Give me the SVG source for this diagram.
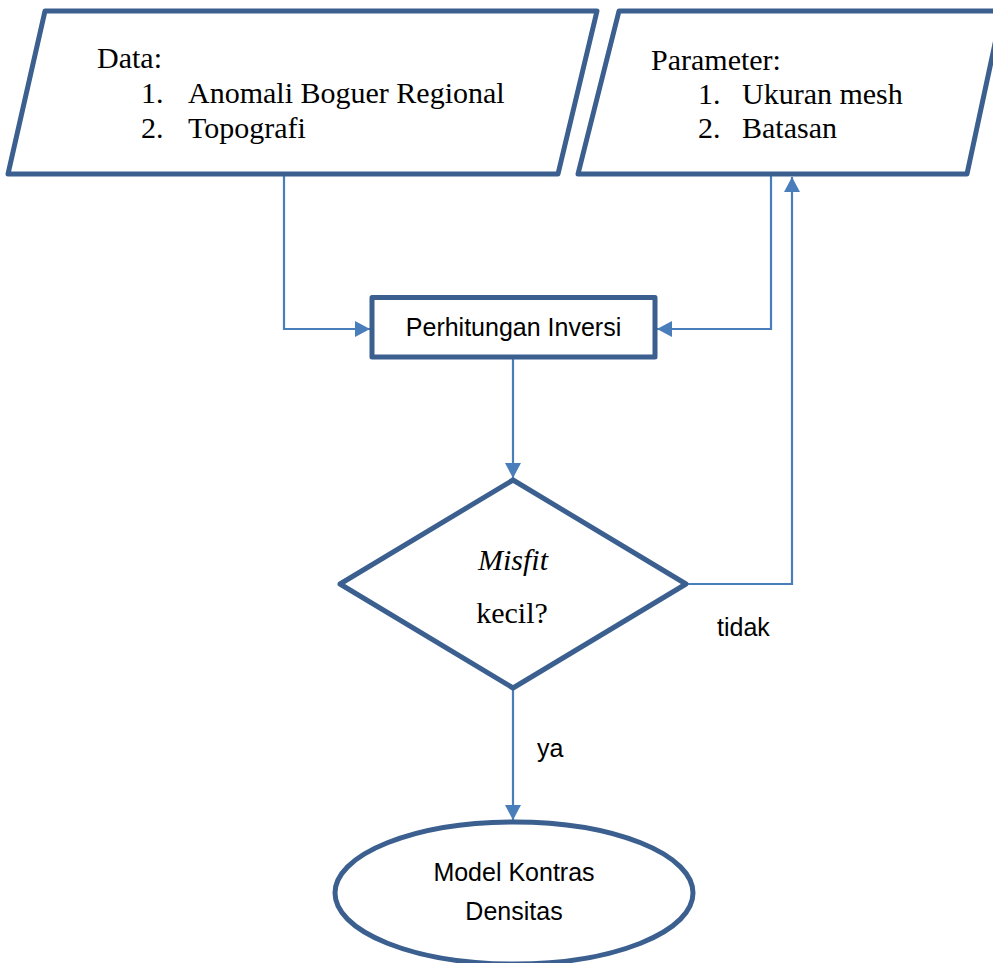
<svg xmlns="http://www.w3.org/2000/svg" width="993" height="963" viewBox="0 0 993 963">
  <style>
    .shape { fill: #ffffff; stroke: #3B5F8F; stroke-width: 5; stroke-linejoin: round; }
    .conn { fill: none; stroke: #4A7EBB; stroke-width: 2.2; }
    .serif { font-family: "Liberation Serif", "Times New Roman", serif; font-size: 30px; fill: #000; }
    .sans { font-family: "Liberation Sans", Arial, sans-serif; font-size: 25px; fill: #000; }
  </style>
  <defs>
    <marker id="arrow" markerUnits="userSpaceOnUse" markerWidth="15" markerHeight="16" refX="15" refY="8" orient="auto">
      <path d="M0,0 L15,8 L0,16 Z" fill="#4A7EBB"/>
    </marker>
  </defs>
  <rect width="993" height="963" fill="#ffffff"/>

  <g id="connectors">
    <path class="conn" d="M284,175 V329 H370" marker-end="url(#arrow)"/>
    <path class="conn" d="M771,175 V329 H657" marker-end="url(#arrow)"/>
    <path class="conn" d="M513,359 V478" marker-end="url(#arrow)"/>
    <path class="conn" d="M686,584 H792 V177" marker-end="url(#arrow)"/>
    <path class="conn" d="M513,690 V820" marker-end="url(#arrow)"/>
  </g>

  <g id="data">
    <polygon class="shape" points="45,11 597,11 558,174 8,174"/>
    <text class="serif" x="97" y="68">Data:</text>
    <text class="serif" x="141" y="103">1.</text>
    <text class="serif" x="188" y="103">Anomali Boguer Regional</text>
    <text class="serif" x="141" y="138">2.</text>
    <text class="serif" x="188" y="138">Topografi</text>
  </g>

  <g id="parameter">
    <polygon class="shape" points="619,11 1002,11 967,174 578,174"/>
    <text class="serif" x="651" y="70">Parameter:</text>
    <text class="serif" x="698" y="104">1.</text>
    <text class="serif" x="742" y="104">Ukuran mesh</text>
    <text class="serif" x="698" y="138">2.</text>
    <text class="serif" x="742" y="138">Batasan</text>
  </g>

  <g id="inversi">
    <rect class="shape" x="372" y="297.5" width="283" height="59.5"/>
    <text class="sans" x="513.5" y="336" text-anchor="middle">Perhitungan Inversi</text>
  </g>

  <g id="misfit">
    <polygon class="shape" points="513,480 686,584 513,688 340,584"/>
    <text class="serif" x="513" y="570" text-anchor="middle" font-style="italic">Misfit</text>
    <text class="serif" x="512" y="623" text-anchor="middle">kecil?</text>
  </g>

  <g id="labels">
    <text class="sans" x="717" y="636">tidak</text>
    <text class="sans" x="537" y="757">ya</text>
  </g>

  <g id="model">
    <ellipse class="shape" cx="514" cy="893" rx="179" ry="71"/>
    <text class="sans" x="514" y="881" text-anchor="middle">Model Kontras</text>
    <text class="sans" x="514" y="920" text-anchor="middle">Densitas</text>
  </g>
</svg>
